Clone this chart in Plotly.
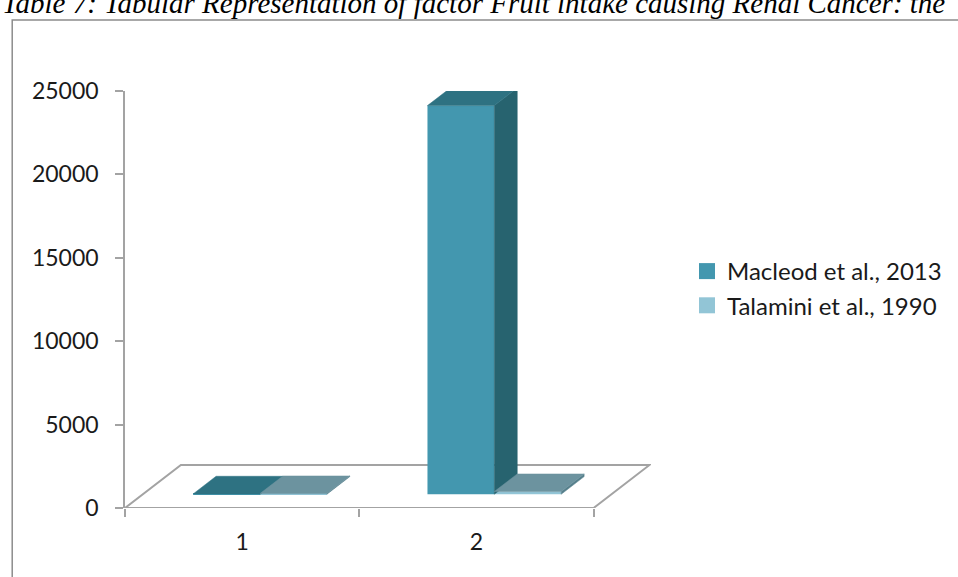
import plotly.graph_objects as go

# ---- data -------------------------------------------------------------
categories = [1, 2]
x_labels = ["1", "2"]
series_names = ["Macleod et al., 2013", "Talamini et al., 1990"]
macleod = [20, 23300]
talamini = [40, 160]
y_ticks = [0, 5000, 10000, 15000, 20000, 25000]

# ---- geometry ---------------------------------------------------------
W, H = 958, 577
PLOT_L, PLOT_R, PLOT_T, PLOT_B = 125, 652, 91, 508
PX_PER_CAT = 234.75
X_MIN = 0.5
X_MAX = X_MIN + (PLOT_R - PLOT_L) / PX_PER_CAT
Y_MAX = 25000
PX_PER_VAL = (PLOT_B - PLOT_T) / Y_MAX

# oblique depth of the floor (axis units) and the slice of it the bars occupy
DEPTH_X = 56 / PX_PER_CAT
DEPTH_Y = 43 / PX_PER_VAL
T_FRONT, T_BACK = 0.32, 0.73
BAR_W = 67 / PX_PER_CAT

GRID = "#a3a3a3"
FONT = dict(family="Lato", size=23, color="#1a1a1a")

styles = [
    dict(front="#4397af", top="#2e7282", side="#27636f"),
    dict(front="#92c5d6", top="#6c939f", side="#557f8b"),
]


def px_x(px):
    return (px - PLOT_L) / (PLOT_R - PLOT_L)


def px_y(py):
    return (PLOT_B - py) / (PLOT_B - PLOT_T)


fig = go.Figure()

base = T_FRONT * DEPTH_Y
ddx = (T_BACK - T_FRONT) * DEPTH_X
ddy = (T_BACK - T_FRONT) * DEPTH_Y

for k, (name, values, st) in enumerate(zip(series_names, [macleod, talamini], styles)):
    lefts = [c + T_FRONT * DEPTH_X - BAR_W + k * BAR_W for c in categories]
    # front faces
    fig.add_trace(go.Bar(
        x=[x0 + BAR_W / 2 for x0 in lefts], y=values, base=[base] * len(values),
        width=BAR_W, marker=dict(color=st["front"], line=dict(width=0)),
        showlegend=False, hoverinfo="skip",
    ))
    for x0, v in zip(lefts, values):
        x1 = x0 + BAR_W
        top = base + v
        # right side face
        fig.add_trace(go.Scatter(
            x=[x1, x1, x1 + ddx, x1 + ddx, x1], y=[base, top, top + ddy, base + ddy, base],
            mode="lines", fill="toself", fillcolor=st["side"],
            line=dict(color=st["side"], width=0.5), showlegend=False, hoverinfo="skip",
        ))
        # top face
        fig.add_trace(go.Scatter(
            x=[x0, x1, x1 + ddx, x0 + ddx, x0], y=[top, top, top + ddy, top + ddy, top],
            mode="lines", fill="toself", fillcolor=st["top"],
            line=dict(color=st["top"], width=0.5), showlegend=False, hoverinfo="skip",
        ))
    # legend swatch
    fig.add_trace(go.Scatter(
        x=[None], y=[None], mode="markers", name=name,
        marker=dict(symbol="square", size=16, color=st["front"]),
    ))

# floor of the 3-D plot
x_lo, x_hi = categories[0] - 0.5, categories[-1] + 0.5
floor_path = (f"M {x_lo},0 L {x_hi},0 L {x_hi + DEPTH_X},{DEPTH_Y} "
              f"L {x_lo + DEPTH_X},{DEPTH_Y} Z")
shapes = [
    dict(type="path", path=floor_path, xref="x", yref="y", layer="below",
         line=dict(color=GRID, width=2), fillcolor="white"),
    # outer frame
    dict(type="rect", xref="paper", yref="paper",
         x0=px_x(12), x1=px_x(990), y0=px_y(600), y1=px_y(20),
         line=dict(color="#8c8c8c", width=1.5), layer="below"),
]

fig.update_layout(
    width=W, height=H, autosize=False,
    margin=dict(l=PLOT_L, r=W - PLOT_R, t=PLOT_T, b=H - PLOT_B, pad=0),
    paper_bgcolor="white", plot_bgcolor="white",
    barmode="overlay", font=FONT, shapes=shapes,
    xaxis=dict(
        range=[X_MIN, X_MAX], showline=False, showgrid=False, zeroline=False,
        tickmode="array", tickvals=categories, ticktext=x_labels, ticks="",
        ticklabelstandoff=18, tickfont=FONT,
        minor=dict(tickmode="array", tickvals=[0.5, 1.5, 2.5], ticks="outside",
                   ticklen=8, tickwidth=1.5, tickcolor=GRID, showgrid=False),
    ),
    yaxis=dict(
        range=[0, Y_MAX], showline=True, linecolor=GRID, linewidth=1.5,
        showgrid=False, zeroline=False, tickmode="array", tickvals=y_ticks,
        ticktext=[str(v) for v in y_ticks],
        ticks="outside", ticklen=8, tickwidth=1.5, tickcolor=GRID,
        ticklabelstandoff=12, tickfont=FONT,
    ),
    legend=dict(
        x=px_x(687), y=px_y(249), xanchor="left", yanchor="top",
        font=dict(family="Lato", size=24, color="#1a1a1a"),
        bgcolor="rgba(0,0,0,0)", tracegroupgap=0,
    ),
    annotations=[dict(
        text="<i>Table 7: Tabular Representation of factor Fruit intake causing Renal Cancer: the</i>",
        xref="paper", yref="paper", x=px_x(0), y=px_y(21), xanchor="left", yanchor="bottom",
        showarrow=False, font=dict(family="Liberation Serif", size=29, color="black"),
    )],
)

fig.write_html("out.html")
